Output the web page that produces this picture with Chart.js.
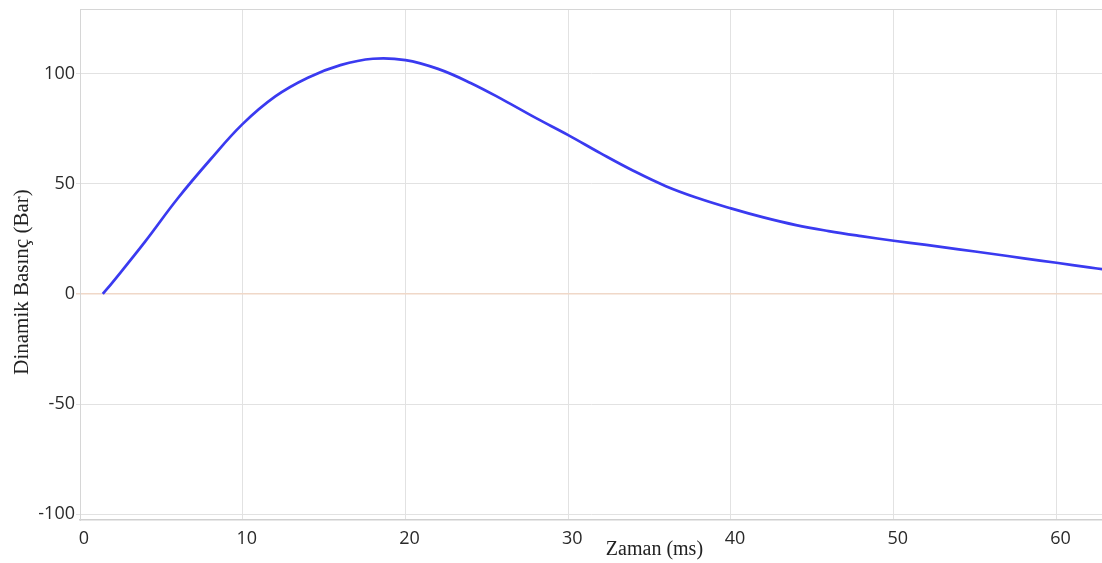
<!DOCTYPE html>
<html>
<head>
<meta charset="utf-8">
<script src="https://cdn.jsdelivr.net/npm/chart.js@4"></script>
<style>
html,body{margin:0;padding:0;background:#fff;}
#wrap{position:relative;width:1102px;height:563px;}
</style>
</head>
<body>
<div id="wrap"><canvas id="c" width="1102" height="563"></canvas></div>
<script>
const timeMs = [1.4, 2, 4, 6, 8, 10, 12, 14, 16, 18, 20, 22, 24, 26, 28, 30, 32, 34, 36, 38, 40, 42, 44, 46, 48, 50, 52, 54, 56, 58, 60, 62, 63];
const pressureBar = [0, 5.3, 23.8, 43.4, 61.0, 77.3, 89.8, 98.3, 104.0, 106.9, 106.3, 102.3, 95.9, 88.2, 80.0, 72.2, 63.9, 56.0, 49.0, 43.5, 38.9, 34.8, 31.3, 28.6, 26.3, 24.2, 22.3, 20.3, 18.3, 16.2, 14.2, 12.1, 11.1];
const xTicks = [0, 10, 20, 30, 40, 50, 60];
const yTicks = [-100, -50, 0, 50, 100];
const xTitle = 'Zaman (ms)';
const yTitle = 'Dinamik Basınç (Bar)';

const points = timeMs.map((t, i) => ({x: t, y: pressureBar[i]}));

const titlesPlugin = {
  id: 'titles',
  afterDraw(chart) {
    const ctx = chart.ctx;
    const ca = chart.chartArea;
    const xs = chart.scales.x;
    ctx.save();
    ctx.strokeStyle = '#d6d6d6';
    ctx.lineWidth = 1;
    ctx.beginPath();
    ctx.moveTo(ca.left, ca.top + 0.5);
    ctx.lineTo(ca.right, ca.top + 0.5);
    ctx.stroke();
    ctx.fillStyle = '#222';
    ctx.textAlign = 'center';
    ctx.textBaseline = 'middle';
    ctx.font = '20px "Liberation Serif", "DejaVu Serif", serif';
    ctx.fillText(xTitle, xs.getPixelForValue(35.3), ca.bottom + 30);
    ctx.font = '21px "Liberation Serif", "DejaVu Serif", serif';
    ctx.translate(22, 282);
    ctx.rotate(-Math.PI / 2);
    ctx.fillText(yTitle, 0, 0);
    ctx.restore();
  }
};

new Chart(document.getElementById('c'), {
  type: 'scatter',
  data: {
    datasets: [{
      data: points,
      showLine: true,
      borderColor: '#3a3af0',
      borderWidth: 2.7,
      pointRadius: 0,
      pointHoverRadius: 0,
      tension: 0.4,
      fill: false
    }]
  },
  options: {
    responsive: false,
    animation: false,
    layout: {padding: {top: 9, right: 0, bottom: 0, left: 0}},
    plugins: {legend: {display: false}, tooltip: {enabled: false}},
    scales: {
      x: {
        type: 'linear',
        min: 0,
        max: 62.8,
        afterBuildTicks: s => { s.ticks = xTicks.map(v => ({value: v})); },
        afterFit: s => { s.height = 43; s.paddingLeft = 0; s.paddingRight = 0; },
        grid: {
          color: '#e2e2e2',
          drawTicks: false,
          lineWidth: 1
        },
        border: {color: '#d0d0d0', width: 1.5},
        ticks: {
          color: '#2a2a2a',
          font: {family: '"Open Sans", "Noto Sans", sans-serif', size: 18},
          padding: 8,
          maxRotation: 0,
          autoSkip: false,
          labelOffset: 4
        }
      },
      y: {
        type: 'linear',
        min: -102.7,
        max: 129.5,
        afterBuildTicks: s => { s.ticks = yTicks.map(v => ({value: v})); },
        afterFit: s => { s.width = 80; s.paddingTop = 0; s.paddingBottom = 0; },
        grid: {
          color: ctx => (ctx.tick && ctx.tick.value === 0) ? '#f0d8c8' : '#e2e2e2',
          lineWidth: ctx => (ctx.tick && ctx.tick.value === 0) ? 1.5 : 1,
          drawTicks: true,
          tickLength: 4
        },
        border: {color: '#d6d6d6', width: 1},
        ticks: {
          color: '#2a2a2a',
          font: {family: '"Open Sans", "Noto Sans", sans-serif', size: 18},
          padding: 1,
          autoSkip: false
        }
      }
    }
  },
  plugins: [titlesPlugin]
});
</script>
</body>
</html>
